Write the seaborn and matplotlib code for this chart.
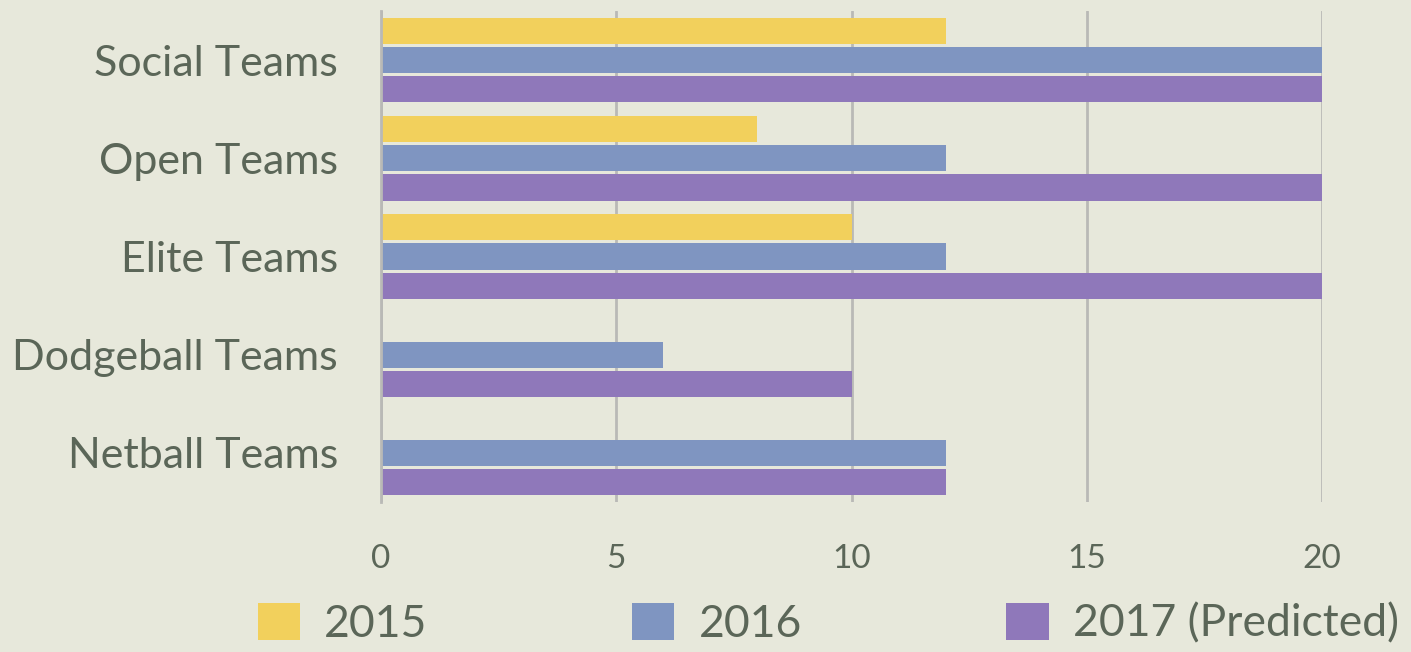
import pandas as pd
import seaborn as sns
import matplotlib.pyplot as plt

# Data
categories = ["Social Teams", "Open Teams", "Elite Teams", "Dodgeball Teams", "Netball Teams"]
years = ["2015", "2016", "2017 (Predicted)"]
teams_2015 = [12, 8, 10, 0, 0]
teams_2016 = [20, 12, 12, 6, 12]
teams_2017 = [20, 20, 20, 10, 12]
x_ticks = [0, 5, 10, 15, 20]

# Long-form table for seaborn
df = pd.DataFrame({
    "category": categories * 3,
    "year": [years[0]] * 5 + [years[1]] * 5 + [years[2]] * 5,
    "teams": teams_2015 + teams_2016 + teams_2017,
})

bg = "#e7e8db"
text_col = "#5b6658"
grid_col = "#b9b9b6"
palette = ["#f2d05c", "#7f95c1", "#8f78ba"]

sns.set_style("white")
plt.rcParams["font.family"] = ["Lato", "DejaVu Sans"]

fig = plt.figure(figsize=(14.11, 6.52), dpi=100, facecolor=bg)
ax = fig.add_axes([381 / 1411, 1 - 502 / 652, (1322 - 381) / 1411, (502 - 11) / 652])
ax.set_facecolor(bg)

sns.barplot(data=df, y="category", x="teams", hue="year", hue_order=years,
            order=categories, palette=palette, orient="h", width=0.89, gap=0.1,
            linewidth=0, saturation=1, errorbar=None, ax=ax)

ax.set_xlim(0, 20)
ax.set_ylim(4.5, -0.5)
ax.set_xticks(x_ticks)
ax.set_xlabel("")
ax.set_ylabel("")
ax.grid(axis="x", color=grid_col, linewidth=2)
ax.set_axisbelow(True)
for s in ["top", "right", "bottom"]:
    ax.spines[s].set_visible(False)
ax.spines["left"].set_color(grid_col)
ax.spines["left"].set_linewidth(2)

ax.tick_params(axis="y", length=0, pad=31, labelsize=31, labelcolor=text_col)
ax.tick_params(axis="x", length=0, pad=30, labelsize=24, labelcolor=text_col)
for lab in ax.get_yticklabels():
    lab.set_va("center_baseline")

handles, labels = ax.get_legend_handles_labels()
ax.get_legend().remove()
leg = fig.legend(handles, labels, loc="lower center", bbox_to_anchor=(0.587, -0.05),
                 ncol=3, frameon=False, fontsize=32, handlelength=0.95,
                 handleheight=0.9, handletextpad=0.55, columnspacing=4.6)
for t in leg.get_texts():
    t.set_color(text_col)

fig.savefig("out.png", dpi=100, facecolor=bg)
